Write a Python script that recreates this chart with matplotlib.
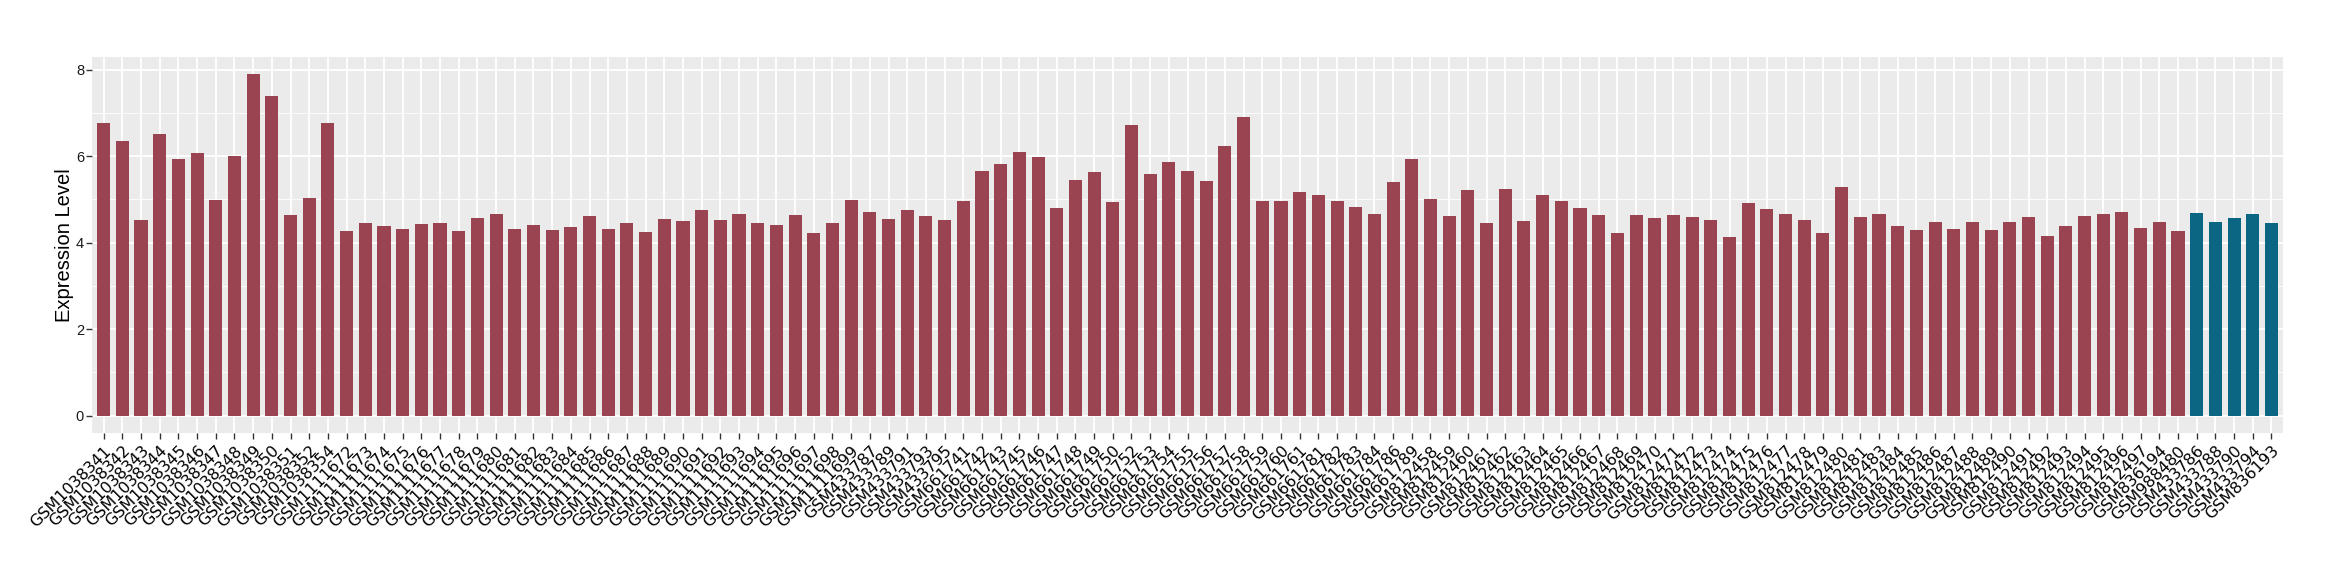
import matplotlib
matplotlib.use("Agg")
import matplotlib.pyplot as plt
from matplotlib.ticker import MultipleLocator

# sample names, left to right
samples = [
    "GSM1038341", "GSM1038342", "GSM1038343", "GSM1038344", "GSM1038345", "GSM1038346",
    "GSM1038347", "GSM1038348", "GSM1038349", "GSM1038350", "GSM1038351", "GSM1038352",
    "GSM1038354",
    "GSM1111672", "GSM1111673", "GSM1111674", "GSM1111675", "GSM1111676", "GSM1111677",
    "GSM1111678", "GSM1111679", "GSM1111680", "GSM1111681", "GSM1111682", "GSM1111683",
    "GSM1111684", "GSM1111685", "GSM1111686", "GSM1111687", "GSM1111688", "GSM1111689",
    "GSM1111690", "GSM1111691", "GSM1111692", "GSM1111693", "GSM1111694", "GSM1111695",
    "GSM1111696", "GSM1111697", "GSM1111698", "GSM1111699",
    "GSM433787", "GSM433789", "GSM433791", "GSM433793", "GSM433795",
    "GSM661741", "GSM661742", "GSM661743", "GSM661745", "GSM661746", "GSM661747",
    "GSM661748", "GSM661749", "GSM661750", "GSM661752", "GSM661753", "GSM661754",
    "GSM661755", "GSM661756", "GSM661757", "GSM661758", "GSM661759", "GSM661760",
    "GSM661761", "GSM661781", "GSM661782", "GSM661783", "GSM661784", "GSM661786",
    "GSM661789",
    "GSM812458", "GSM812459", "GSM812460", "GSM812461", "GSM812462", "GSM812463",
    "GSM812464", "GSM812465", "GSM812466", "GSM812467", "GSM812468", "GSM812469",
    "GSM812470", "GSM812471", "GSM812472", "GSM812473", "GSM812474", "GSM812475",
    "GSM812476", "GSM812477", "GSM812478", "GSM812479", "GSM812480", "GSM812481",
    "GSM812483", "GSM812484", "GSM812485", "GSM812486", "GSM812487", "GSM812488",
    "GSM812489", "GSM812490", "GSM812491", "GSM812492", "GSM812493", "GSM812494",
    "GSM812495", "GSM812496", "GSM812497",
    "GSM836194", "GSM988480",
    "GSM433786", "GSM433788", "GSM433790", "GSM433794", "GSM836193",
]

expression = [
    6.76, 6.35, 4.52, 6.51, 5.93, 6.07, 4.98, 6.00, 7.89, 7.38, 4.64, 5.03, 6.76,
    4.27, 4.45, 4.38, 4.32, 4.43, 4.45, 4.27, 4.57, 4.66, 4.32, 4.41, 4.29, 4.36,
    4.62, 4.32, 4.45, 4.25, 4.55, 4.50, 4.75, 4.52, 4.66, 4.45, 4.41, 4.64, 4.22,
    4.45, 4.98,
    4.71, 4.55, 4.75, 4.62, 4.52,
    4.96, 5.65, 5.82, 6.09, 5.98, 4.80, 5.45, 5.63, 4.94, 6.72, 5.58, 5.86,
    5.65, 5.42, 6.23, 6.90, 4.96, 4.96, 5.17, 5.10, 4.96, 4.82, 4.66, 5.40,
    5.93,
    5.01, 4.62, 5.22, 4.45, 5.24, 4.50, 5.10, 4.96, 4.80, 4.64, 4.22, 4.64,
    4.57, 4.64, 4.59, 4.52, 4.13, 4.92, 4.78, 4.66, 4.52, 4.22, 5.28, 4.59,
    4.66, 4.38, 4.29, 4.48, 4.32, 4.48, 4.29, 4.48, 4.59, 4.15, 4.38, 4.62,
    4.66, 4.71, 4.34,
    4.48, 4.27,
    4.68, 4.48, 4.57, 4.66, 4.45,
]

highlight = ["GSM433786", "GSM433788", "GSM433790", "GSM433794", "GSM836193"]

red = "#9A4351"
blue = "#0B6683"
colors = [blue if s in highlight else red for s in samples]

fig = plt.figure(figsize=(23.4, 5.8), dpi=100)
ax = fig.add_axes([0.0395, 0.254, 0.936, 0.648])
ax.set_facecolor("#EBEBEB")

x = list(range(len(samples)))
ax.bar(x, expression, width=0.7, color=colors, zorder=3)

ax.set_xlim(-0.6, len(samples) - 0.4)
ax.set_ylim(-0.395, 8.295)

ax.yaxis.set_major_locator(MultipleLocator(2))
ax.yaxis.set_minor_locator(MultipleLocator(1))
ax.grid(which="major", axis="both", color="white", linewidth=1.3, zorder=0)
ax.grid(which="minor", axis="y", color="white", linewidth=0.6, zorder=0)
ax.set_axisbelow(True)

ax.set_xticks(x)
ax.set_xticklabels(samples, rotation=45, ha="right", va="top",
                   rotation_mode="anchor", fontsize=11.5, family="DejaVu Sans")
ax.tick_params(axis="both", which="major", length=4, width=1, color="#333333")
ax.tick_params(axis="y", which="minor", length=0)
ax.tick_params(axis="y", labelsize=10.5, labelcolor="#1a1a1a", pad=2)
for lbl in ax.get_yticklabels():
    lbl.set_family("Liberation Sans")

for sp in ax.spines.values():
    sp.set_visible(False)

ax.set_ylabel("Expression Level", fontsize=14.5, family="Liberation Sans", labelpad=1)

plt.savefig("out.png", dpi=100)
plt.close()
